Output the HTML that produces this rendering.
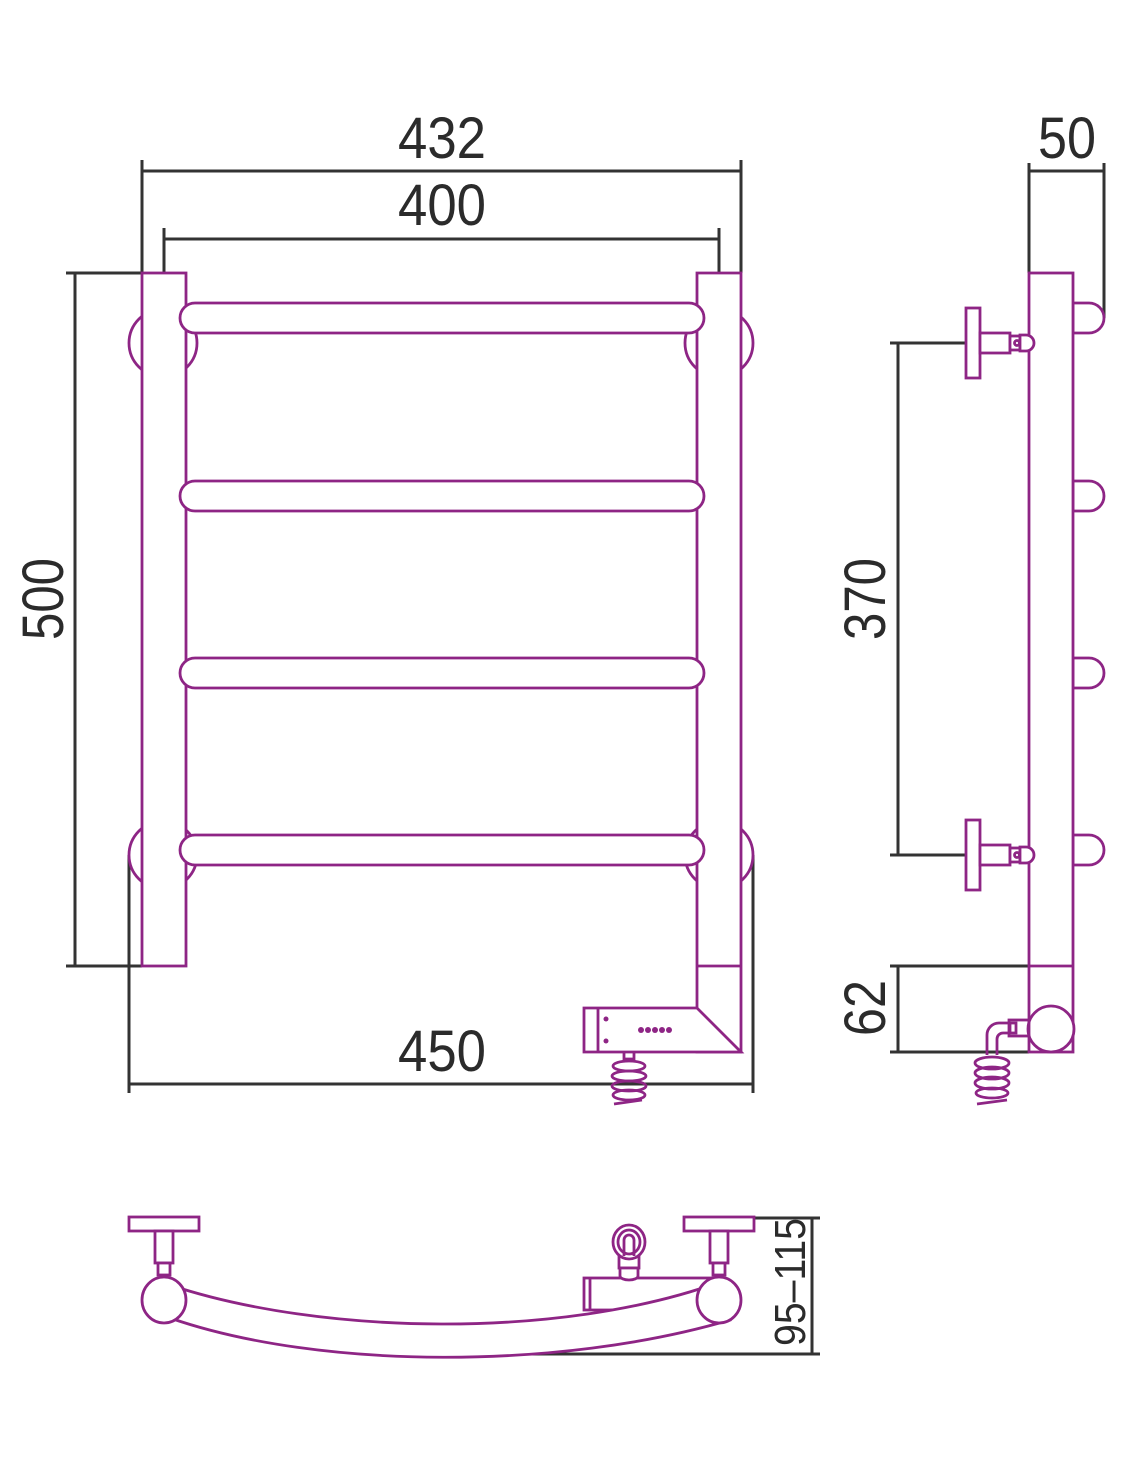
<!DOCTYPE html>
<html><head><meta charset="utf-8"><style>html,body{margin:0;padding:0;background:#fff}svg{display:block}</style></head>
<body>
<svg width="1126" height="1473" viewBox="0 0 1126 1473" xmlns="http://www.w3.org/2000/svg">
<g font-family="Liberation Sans, sans-serif" font-size="58" fill="#2b2b2b">
<text x="398" y="158" textLength="88" lengthAdjust="spacingAndGlyphs">432</text>
<text x="398" y="225" textLength="88" lengthAdjust="spacingAndGlyphs">400</text>
<text x="398" y="1071" textLength="88" lengthAdjust="spacingAndGlyphs">450</text>
<text x="1038" y="158" textLength="58" lengthAdjust="spacingAndGlyphs">50</text>
<text transform="translate(63,640) rotate(-90)" textLength="82" lengthAdjust="spacingAndGlyphs">500</text>
<text transform="translate(885,640) rotate(-90)" textLength="82" lengthAdjust="spacingAndGlyphs">370</text>
<text transform="translate(885,1036) rotate(-90)" textLength="56" lengthAdjust="spacingAndGlyphs">62</text>
<text transform="translate(805,1346) rotate(-90)" font-size="44" textLength="128" lengthAdjust="spacingAndGlyphs">95–115</text>
</g>
<g stroke="#333" stroke-width="3" fill="none">
<path d="M142 160V273M741 160V273M142 171H741"/>
<path d="M164 228V273M719 228V273M164 239H719"/>
<path d="M66 273H142M66 966H142M75 273V966"/>
<path d="M129 855V1093M753 855V1093M129 1084H753"/>
<path d="M1029 163V273M1104 163V318M1029 171H1104"/>
<path d="M890 343H965M890 855H965M898 343V855"/>
<path d="M890 966H1029M890 1052H1029M898 966V1052"/>
<path d="M755 1218H820M440 1354H820M812 1218V1354"/>
</g>
<g stroke="#8e2585" stroke-width="2.8" fill="#fff">
<circle cx="163" cy="343" r="34"/><circle cx="163" cy="855" r="34"/>
<circle cx="719" cy="343" r="34"/><circle cx="719" cy="855" r="34"/>
<rect x="142" y="273" width="44" height="693"/>
<path d="M697 273H741V1052H697L697 273Z"/>
<path d="M697 966H741" fill="none"/>
<rect x="180" y="303" width="524" height="30" rx="15"/>
<rect x="180" y="481" width="524" height="30" rx="15"/>
<rect x="180" y="658" width="524" height="30" rx="15"/>
<rect x="180" y="835" width="524" height="30" rx="15"/>
<path d="M584 1008H697L741 1052H584Z"/>
<path d="M598 1008V1052" fill="none"/>
<g fill="#8e2585" stroke="none"><circle cx="606" cy="1019" r="2.5"/><circle cx="606" cy="1041" r="2.5"/>
<circle cx="641" cy="1030" r="3"/><circle cx="648" cy="1030" r="3"/><circle cx="655" cy="1030" r="3"/><circle cx="662" cy="1030" r="3"/><circle cx="669" cy="1030" r="3"/></g>
<g fill="none"><path d="M624 1053v6h10v-6"/>
<ellipse cx="629" cy="1066" rx="16" ry="5"/><ellipse cx="629" cy="1076" rx="17" ry="5"/><ellipse cx="629" cy="1086" rx="17" ry="5"/><ellipse cx="629" cy="1095" rx="16" ry="5"/><path d="M614 1104l28-4"/></g>
<path d="M1073 303h16a15 15 0 0 1 0 30h-16z"/>
<path d="M1073 481h16a15 15 0 0 1 0 30h-16z"/>
<path d="M1073 658h16a15 15 0 0 1 0 30h-16z"/>
<path d="M1073 835h16a15 15 0 0 1 0 30h-16z"/>
<rect x="1029" y="273" width="44" height="779"/>
<path d="M1029 966H1073" fill="none"/>
<circle cx="1051" cy="1029" r="23"/>
<g>
<rect x="966" y="308" width="14" height="70"/><rect x="980" y="333" width="30" height="20"/><rect x="1010" y="336" width="10" height="14"/><path d="M1020 335h6a8 8 0 0 1 0 16h-6z"/><circle cx="1017" cy="343" r="2.5"/>
<rect x="966" y="820" width="14" height="70"/><rect x="980" y="845" width="30" height="20"/><rect x="1010" y="848" width="10" height="14"/><path d="M1020 847h6a8 8 0 0 1 0 16h-6z"/><circle cx="1017" cy="855" r="2.5"/>
</g>
<g fill="none"><rect x="1009" y="1020" width="20" height="16"/><rect x="1010" y="1023" width="6" height="10"/>
<path d="M1009 1023h-10a12 12 0 0 0-12 12v20M1009 1033h-6a6 6 0 0 0-6 6v16"/>
<ellipse cx="992" cy="1063" rx="17" ry="6"/><ellipse cx="992" cy="1073" rx="17" ry="6"/><ellipse cx="992" cy="1083" rx="17" ry="6"/><ellipse cx="992" cy="1093" rx="16" ry="5"/><path d="M977 1104l30-4"/></g>
<rect x="584" y="1278" width="136" height="32"/>
<path d="M590 1278V1310" fill="none"/>
<path d="M170 1285C320 1335 560 1340 720 1282L730 1320C560 1370 320 1370 170 1318Z"/>
<rect x="129" y="1217" width="70" height="14"/><rect x="155" y="1231" width="18" height="32"/><rect x="158" y="1263" width="12" height="12"/>
<rect x="684" y="1217" width="70" height="14"/><rect x="710" y="1231" width="18" height="32"/><rect x="713" y="1263" width="12" height="12"/>
<ellipse cx="164" cy="1300" rx="22" ry="23"/><ellipse cx="719" cy="1300" rx="22" ry="23"/>
<rect x="619" y="1256" width="20" height="12"/><path d="M620 1268h18v8a9 4 0 0 1-18 0z"/>
<ellipse cx="629" cy="1242" rx="16" ry="17"/><ellipse cx="629" cy="1242" rx="11" ry="12"/><path d="M624 1256v-16a5 5 0 0 1 10 0v16" fill="none"/>
</g>
</svg>
</body></html>
